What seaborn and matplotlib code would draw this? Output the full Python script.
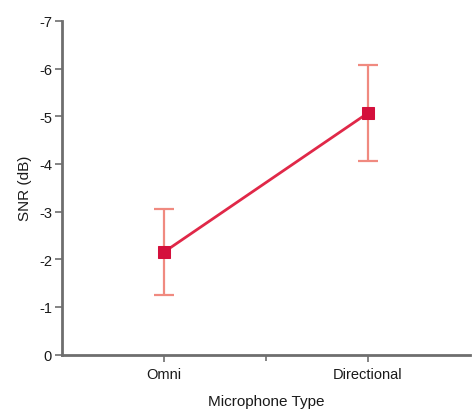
import matplotlib
matplotlib.use("Agg")
import matplotlib.pyplot as plt
import numpy as np
import pandas as pd
import seaborn as sns
from matplotlib.ticker import FixedLocator

# data
mic_types = ["Omni", "Directional"]
snr_mean = [-2.15, -5.07]
snr_err = [0.90, 1.00]

df = pd.DataFrame({"Microphone Type": mic_types, "SNR (dB)": snr_mean})

sns.set_theme(style="ticks")
plt.rcParams['font.family'] = ['Liberation Sans', 'DejaVu Sans']

fig = plt.figure(figsize=(4.72, 4.14), dpi=100)
ax = fig.add_axes([0.131, 0.141, 0.865, 0.806])

# error bars first so the line and markers sit on top
ax.errorbar(np.arange(len(mic_types)), snr_mean, yerr=snr_err, fmt="none",
            ecolor="#f08a80", elinewidth=1.6, capsize=7, capthick=1.6, zorder=2)

sns.lineplot(data=df, x="Microphone Type", y="SNR (dB)", ax=ax,
             color="#e02848", lw=2, marker="s", markersize=8,
             markerfacecolor="#d4103c", markeredgecolor="#d4103c",
             sort=False, zorder=3)

# axis formatting
ax.set_xlim(-0.5, 1.5)
ax.set_ylim(0, -7)
ax.set_yticks(np.arange(0, -8, -1))
ax.set_yticklabels([str(v) for v in range(0, -8, -1)])
ax.set_xticks(range(len(mic_types)))
ax.set_xticklabels(mic_types)
ax.xaxis.set_minor_locator(FixedLocator([0.5]))

for side in ["top", "right"]:
    ax.spines[side].set_visible(False)
for side in ["left", "bottom"]:
    ax.spines[side].set_color("#6e6e6e")
    ax.spines[side].set_linewidth(2)

ax.tick_params(axis="both", which="both", direction="out", color="#6e6e6e",
               width=1.2, labelsize=10.5, labelcolor="#1a1a1a")
ax.tick_params(axis="y", which="major", length=5, pad=2)
ax.tick_params(axis="x", which="major", length=5, pad=4)
ax.tick_params(axis="x", which="minor", length=4)

ax.set_xlabel("Microphone Type", fontsize=11, color="#1a1a1a", labelpad=9)
ax.set_ylabel("SNR (dB)", fontsize=11, color="#1a1a1a", labelpad=5)

plt.savefig("out.png", dpi=100)
